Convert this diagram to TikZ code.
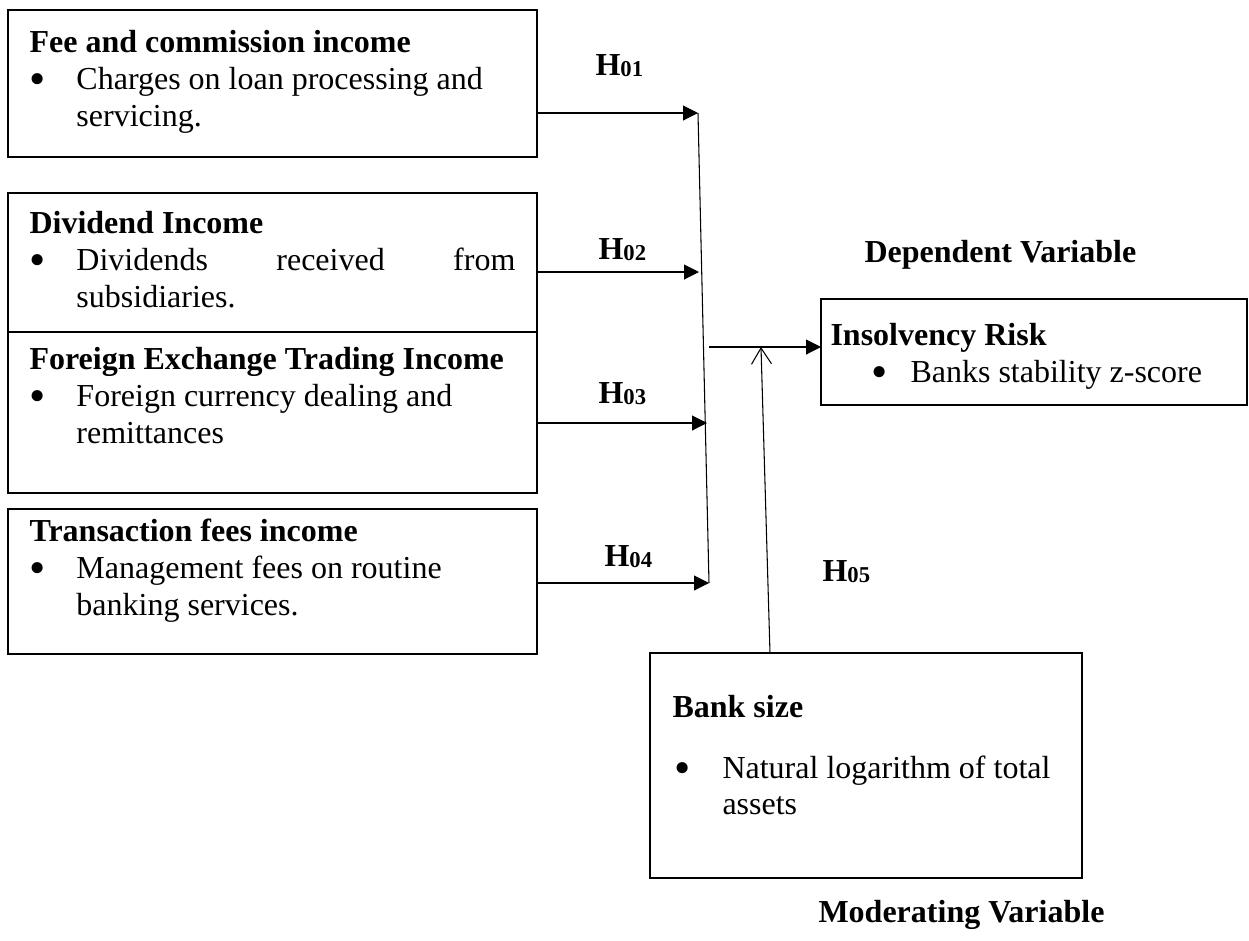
\documentclass[tikz,border=0pt]{standalone}
\usepackage{fontspec}
\setmainfont{Liberation Serif}
\usetikzlibrary{arrows.meta}

\newcommand{\hyp}[1]{\textbf{H\raisebox{-0.6pt}{\fontsize{8.5}{10}\selectfont #1}}}
\newcommand{\bul}{\raisebox{-1.9pt}{\scalebox{1.45}{\textbullet}}}
\newcommand{\itemtext}[3]{\begin{tabular}[t]{@{}p{17.6pt}@{}l@{}}
	\multicolumn{2}{@{}l@{}}{\textbf{#1}}\\
	\bul & #2\\
	& #3
\end{tabular}}

\begin{document}
\begin{tikzpicture}[x=0.375pt,y=-0.375pt,
	every node/.style={font=\fontsize{12}{13.875}\selectfont},
	box/.style={draw,line width=0.8pt,outer sep=0pt,inner sep=0pt,anchor=north west},
	txt/.style={inner sep=0pt,anchor=base west},
	link/.style={line width=0.4pt,-{Triangle[length=5.6pt,width=5.6pt]}},
	moder/.style={line width=0.4pt,-{Straight Barb[length=6pt,width=7.5pt]}}]
	\useasboundingbox (0,0) rectangle (1249,941);

	% independent variables
	\node[box,minimum width=198.4pt,minimum height=55.1pt] (fee) at (8,10) {};
	\node[box,minimum width=198.4pt,minimum height=52.1pt] (div) at (8,193) {};
	\node[box,minimum width=198.4pt,minimum height=60.4pt] (fx) at (8,332) {};
	\node[box,minimum width=198.4pt,minimum height=54.4pt] (tx) at (8,509) {};

	\node[txt] (feetxt) at (29,52) {\itemtext{Fee and commission income}{Charges on loan processing and}{servicing.}};
	\node[txt] (divtxt) at (29,233) {\itemtext{Dividend Income}{\makebox[164.6pt][s]{Dividends\hfill received\hfill from}}{subsidiaries.}};
	\node[txt] (fxtxt) at (29,369) {\itemtext{Foreign Exchange Trading Income}{Foreign currency dealing and}{remittances}};
	\node[txt] (txtxt) at (29,541) {\itemtext{Transaction fees income}{Management fees on routine}{banking services.}};

	% dependent variable
	\node[box,minimum width=159.75pt,minimum height=39.75pt] (ins) at (821,299) {};
	\node[txt] (institle) at (830,345) {\textbf{Insolvency Risk}};
	\node[txt] (insbul) at (871,382) {\bul};
	\node[txt] (instxt) at (910,382) {Banks stability z-score};
	\node[txt] (dep) at (864,262) {\textbf{Dependent Variable}};

	% moderating variable
	\node[box,minimum width=162pt,minimum height=84.4pt] (bank) at (650,653) {};
	\node[txt] (banktitle) at (672,717) {\textbf{Bank size}};
	\node[txt] (bankbul) at (674,778) {\bul};
	\node[txt] (banktxt) at (722,778) {Natural logarithm of total};
	\node[txt] (banktxt2) at (722,814) {assets};
	\node[txt] (mod) at (818,922) {\textbf{Moderating Variable}};

	% hypotheses
	\node[txt] (h1) at (595,75) {\hyp{01}};
	\node[txt] (h2) at (598,259) {\hyp{02}};
	\node[txt] (h3) at (598,403) {\hyp{03}};
	\node[txt] (h4) at (604,566) {\hyp{04}};
	\node[txt] (h5) at (822,581) {\hyp{05}};

	\coordinate (j1) at (698,113);
	\coordinate (j2) at (699,272);
	\coordinate (j3) at (707,423);
	\coordinate (j4) at (709,583);
	\coordinate (jo) at (709,347);
	\coordinate (jm) at (761,347);
	\coordinate (m0) at (770,653);

	\draw[link] (fee.east |- j1) -- (j1);
	\draw[link] (div.east |- j2) -- (j2);
	\draw[link] (fx.east |- j3) -- (j3);
	\draw[link] (tx.east |- j4) -- (j4);
	\draw[line width=0.4pt] (j1) -- (j4);
	\draw[link] (jo) -- (ins.west |- jo);
	\draw[moder] (m0) -- (jm);
\end{tikzpicture}
\end{document}
